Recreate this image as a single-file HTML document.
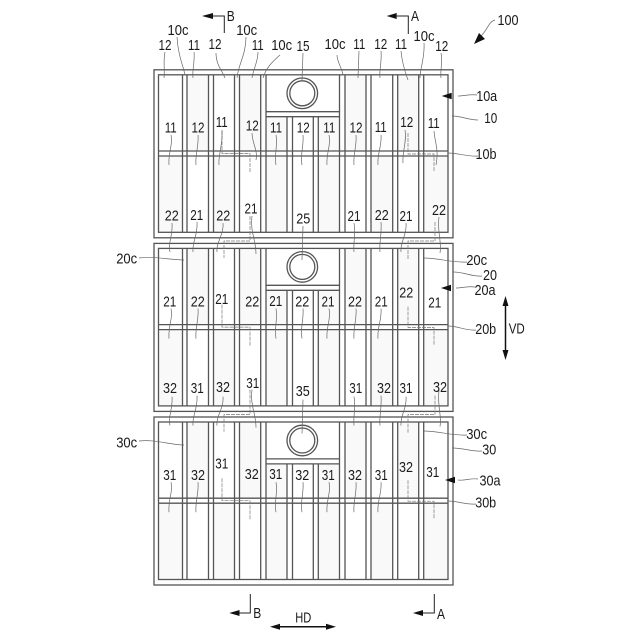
<!DOCTYPE html>
<html><head><meta charset="utf-8">
<style>
html,body{margin:0;padding:0;background:#fff;width:640px;height:640px;overflow:hidden}
svg{display:block}
text{font-family:"Liberation Sans",sans-serif;font-size:15px;fill:#1a1a1a;text-anchor:middle}
.w{fill:none;stroke:#555;stroke-width:1.3}
.l{fill:none;stroke:#666;stroke-width:.7}
.d{fill:none;stroke:#777;stroke-width:.7;stroke-dasharray:4 1}
.a{fill:none;stroke:#222;stroke-width:1}
.s{fill:#f9f9f9}
</style></head><body>
<svg width="640" height="640" viewBox="0 0 640 640" xmlns="http://www.w3.org/2000/svg">
<defs>
<g id="m">
<rect class="s" x="187" y="75" width="21.5" height="76"/>
<rect class="s" x="240" y="75" width="21" height="76"/>
<rect class="s" x="345" y="75" width="21" height="76"/>
<rect class="s" x="398" y="75" width="21" height="76"/>
<rect class="s" x="266" y="117" width="21" height="34"/>
<rect class="s" x="318" y="117" width="21.5" height="34"/>
<rect class="s" x="158" y="156" width="24.5" height="76"/>
<rect class="s" x="213.500" y="156" width="21" height="76"/>
<rect class="s" x="266" y="156" width="21" height="76"/>
<rect class="s" x="318" y="156" width="21.500" height="76"/>
<rect class="s" x="371" y="156" width="21.500" height="76"/>
<rect class="s" x="424" y="156" width="24" height="76"/>
<rect class="w" x="154" y="69.800" width="299" height="168"/>
<rect class="w" x="158.500" y="74.800" width="289.500" height="157.500"/>
<path class="w" d="M182.500 75V232M187 75V232M208.500 75V232M213.500 75V232M234.500 75V232M239.500 75V232M260.700 75V232M266 75V232M339.500 75V232M345 75V232M366 75V232M371 75V232M392.700 75V232M397.700 75V232M418.700 75V232M423.700 75V232"/>
<path class="w" d="M158.500 151H448M158.500 156H448M266 111.700H339.500M266 116.700H339.500M287 117V232M292.500 117V232M313.300 117V232M318.300 117V232"/>
<circle class="w" cx="302.300" cy="93.300" r="15.300" style="fill:#fff"/>
<circle class="w" cx="302.300" cy="93.300" r="12.500" style="fill:#fff"/>
</g>
<g id="ld">
<path class="l" d="M171 135C173 146 168 152 169 165M198 135C199 146 195 154 196 165M276 135C278 146 274 154 276 165M303 135C304 146 300 154 302 165M329 135C331 146 326 154 327 165M356 135C357 146 353 154 354 165M381 135C382 146 377 154 378 165"/>
<path class="d" d="M222 131V153.500H250V172M408 133V154H434V172"/>
</g>
<g id="tl">
<path class="l" d="M172 223C173 235 168 242 170 252M197 222C198 235 192 242 193 252M223 223C224 235 216 242 217 252M252 216C250 232 256 240 256 254M303 226L302 260M354 223C356 235 353 242 354 252M381 222C382 235 379 242 380 252M406 223C407 235 400 242 401 252M439 217C437 232 442 242 440 253"/>
<path class="d" d="M250 216V241H224V258M435 222V241H408V260"/>
</g>
</defs>

<use href="#m"/>
<use href="#m" y="173.600"/>
<use href="#m" y="347.200"/>
<use href="#ld"/>
<use href="#ld" y="173.600"/>
<use href="#ld" y="347.200"/>
<use href="#tl"/>
<use href="#tl" y="173.600"/>

<path class="l" d="M165 52C163 62 165 70 164 78M177 37C178 55 183 65 185 75M194 52C195 62 192 70 193 78M216 53C216 65 222 70 225 78M246 37C246 55 238 65 237 78M258 52C258 62 253 70 252 78M280 55C272 62 266 68 263 78M303 53L302 80M337 55C337 62 342 68 343 75M359 51L358 78M381 51C382 62 379 70 380 78M401 51C402 62 405 72 408 80M424 43C425 58 420 68 420 78M441 53C443 62 440 70 441 78"/>
<path class="l" d="M222 130C223 145 218 155 219 165M252 133C252 143 258 150 256 160M405 130C407 142 402 152 403 163M434 131C435 143 439 150 436 165"/>
<path class="l" d="M452 116C462 116 468 120 478 120M448 153C458 153 468 157 478 156M458 96C464 96 470 94 477 95"/>
<path class="l" d="M139 258C155 256 170 260 184 260M423 258C440 258 452 263 467 262M453 272C465 272 472 277 482 276M456 288C462 288 468 286 475 287M448 326C458 326 466 331 476 330"/>
<path class="l" d="M139 441C155 439 170 445 184 445M423 431C440 431 452 436 467 435M452 448C465 448 472 452 482 451M458 480C465 481 470 478 478 479M448 501C458 501 466 505 476 504"/>

<polygon points="441.700,96 451.700,92.800 451.700,99.200" fill="#111"/>
<polygon points="441,288 451,284.800 451,291.200" fill="#111"/>
<polygon points="445,480 455,476.800 455,483.200" fill="#111"/>

<path class="a" d="M213 16H224.300V33M396.700 16H408.300V34M239 613H250.300V594M423 613H434.300V594"/>
<polygon points="202,16 213,13 213,19" fill="#111"/>
<polygon points="386.700,16 396.700,13 396.700,19" fill="#111"/>
<polygon points="229.300,613 239.500,610 239.500,616" fill="#111"/>
<polygon points="413,613 423,610 423,616" fill="#111"/>
<path d="M278 626.700H328" stroke="#111" stroke-width="1.5"/>
<polygon points="270,626.700 280,623.700 280,629.700" fill="#111"/>
<polygon points="336,626.700 326,623.700 326,629.700" fill="#111"/>
<path d="M505.500 304V352" stroke="#111" stroke-width="1.5"/>
<polygon points="505.500,296 502.500,306 508.500,306" fill="#111"/>
<polygon points="505.500,360 502.500,350 508.500,350" fill="#111"/>
<path class="l" d="M495 20C488 22 488 30 480 37" stroke-width="1"/>
<polygon points="474,44 479,33 485,39" fill="#111"/>

<g>
<text x="230.700" y="21" textLength="8" lengthAdjust="spacingAndGlyphs">B</text>
<text x="415" y="21" textLength="8" lengthAdjust="spacingAndGlyphs">A</text>
<text x="257.300" y="618" textLength="8" lengthAdjust="spacingAndGlyphs">B</text>
<text x="441" y="619" textLength="8" lengthAdjust="spacingAndGlyphs">A</text>
<text x="303.300" y="622.700" textLength="16" lengthAdjust="spacingAndGlyphs">HD</text>
<text x="516.700" y="333.300" textLength="16" lengthAdjust="spacingAndGlyphs">VD</text>
<text x="508" y="25" textLength="21" lengthAdjust="spacingAndGlyphs">100</text>

<text x="165" y="50" textLength="13" lengthAdjust="spacingAndGlyphs">12</text>
<text x="178" y="35" textLength="21" lengthAdjust="spacingAndGlyphs">10c</text>
<text x="194" y="50" textLength="12" lengthAdjust="spacingAndGlyphs">11</text>
<text x="215" y="49" textLength="13" lengthAdjust="spacingAndGlyphs">12</text>
<text x="246.700" y="35" textLength="21" lengthAdjust="spacingAndGlyphs">10c</text>
<text x="257.700" y="50" textLength="12" lengthAdjust="spacingAndGlyphs">11</text>
<text x="281.700" y="50" textLength="21" lengthAdjust="spacingAndGlyphs">10c</text>
<text x="303" y="51" textLength="13" lengthAdjust="spacingAndGlyphs">15</text>
<text x="335" y="49" textLength="21" lengthAdjust="spacingAndGlyphs">10c</text>
<text x="359.300" y="49" textLength="12" lengthAdjust="spacingAndGlyphs">11</text>
<text x="380.700" y="49" textLength="13" lengthAdjust="spacingAndGlyphs">12</text>
<text x="401" y="49" textLength="12" lengthAdjust="spacingAndGlyphs">11</text>
<text x="424" y="41" textLength="21" lengthAdjust="spacingAndGlyphs">10c</text>
<text x="441.700" y="51" textLength="13" lengthAdjust="spacingAndGlyphs">12</text>

<text x="170.700" y="132.700" textLength="12" lengthAdjust="spacingAndGlyphs">11</text>
<text x="198" y="132.700" textLength="13" lengthAdjust="spacingAndGlyphs">12</text>
<text x="221.700" y="127" textLength="12" lengthAdjust="spacingAndGlyphs">11</text>
<text x="252.300" y="130.500" textLength="13" lengthAdjust="spacingAndGlyphs">12</text>
<text x="276" y="132.700" textLength="12" lengthAdjust="spacingAndGlyphs">11</text>
<text x="303.300" y="132.700" textLength="13" lengthAdjust="spacingAndGlyphs">12</text>
<text x="329.300" y="132.700" textLength="12" lengthAdjust="spacingAndGlyphs">11</text>
<text x="356" y="132.700" textLength="13" lengthAdjust="spacingAndGlyphs">12</text>
<text x="380.700" y="132" textLength="12" lengthAdjust="spacingAndGlyphs">11</text>
<text x="406.700" y="127" textLength="13" lengthAdjust="spacingAndGlyphs">12</text>
<text x="433.700" y="128" textLength="12" lengthAdjust="spacingAndGlyphs">11</text>
<text x="486.700" y="101" textLength="21" lengthAdjust="spacingAndGlyphs">10a</text>
<text x="490.700" y="123" textLength="13" lengthAdjust="spacingAndGlyphs">10</text>
<text x="486" y="159" textLength="21" lengthAdjust="spacingAndGlyphs">10b</text>

<text x="171.700" y="220.700" textLength="14" lengthAdjust="spacingAndGlyphs">22</text>
<text x="196.700" y="220" textLength="13" lengthAdjust="spacingAndGlyphs">21</text>
<text x="223.300" y="220.700" textLength="14" lengthAdjust="spacingAndGlyphs">22</text>
<text x="251" y="213.700" textLength="13" lengthAdjust="spacingAndGlyphs">21</text>
<text x="303.300" y="223.700" textLength="14" lengthAdjust="spacingAndGlyphs">25</text>
<text x="354" y="221" textLength="13" lengthAdjust="spacingAndGlyphs">21</text>
<text x="381.700" y="220" textLength="14" lengthAdjust="spacingAndGlyphs">22</text>
<text x="406" y="221" textLength="13" lengthAdjust="spacingAndGlyphs">21</text>
<text x="439" y="215" textLength="14" lengthAdjust="spacingAndGlyphs">22</text>
<text x="126.700" y="263.300" textLength="21" lengthAdjust="spacingAndGlyphs">20c</text>
<text x="476.700" y="265" textLength="21" lengthAdjust="spacingAndGlyphs">20c</text>
<text x="490" y="280" textLength="14" lengthAdjust="spacingAndGlyphs">20</text>
<text x="485" y="295" textLength="21" lengthAdjust="spacingAndGlyphs">20a</text>
<text x="485.700" y="334" textLength="21" lengthAdjust="spacingAndGlyphs">20b</text>

<text x="169.700" y="306.700" textLength="13" lengthAdjust="spacingAndGlyphs">21</text>
<text x="197.700" y="306.700" textLength="14" lengthAdjust="spacingAndGlyphs">22</text>
<text x="221.700" y="304" textLength="13" lengthAdjust="spacingAndGlyphs">21</text>
<text x="252.300" y="306.700" textLength="14" lengthAdjust="spacingAndGlyphs">22</text>
<text x="275.700" y="306" textLength="13" lengthAdjust="spacingAndGlyphs">21</text>
<text x="302.300" y="306.700" textLength="14" lengthAdjust="spacingAndGlyphs">22</text>
<text x="328" y="306.700" textLength="13" lengthAdjust="spacingAndGlyphs">21</text>
<text x="355" y="306.700" textLength="14" lengthAdjust="spacingAndGlyphs">22</text>
<text x="381.300" y="306.700" textLength="13" lengthAdjust="spacingAndGlyphs">21</text>
<text x="406.300" y="297.700" textLength="14" lengthAdjust="spacingAndGlyphs">22</text>
<text x="434.700" y="307.700" textLength="13" lengthAdjust="spacingAndGlyphs">21</text>

<text x="170" y="393" textLength="14" lengthAdjust="spacingAndGlyphs">32</text>
<text x="197.300" y="393" textLength="13" lengthAdjust="spacingAndGlyphs">31</text>
<text x="223" y="392" textLength="14" lengthAdjust="spacingAndGlyphs">32</text>
<text x="252.700" y="388" textLength="13" lengthAdjust="spacingAndGlyphs">31</text>
<text x="302.700" y="396" textLength="14" lengthAdjust="spacingAndGlyphs">35</text>
<text x="355.700" y="393" textLength="13" lengthAdjust="spacingAndGlyphs">31</text>
<text x="384" y="393" textLength="14" lengthAdjust="spacingAndGlyphs">32</text>
<text x="406" y="393" textLength="13" lengthAdjust="spacingAndGlyphs">31</text>
<text x="440" y="392" textLength="14" lengthAdjust="spacingAndGlyphs">32</text>
<text x="126.700" y="447.700" textLength="21" lengthAdjust="spacingAndGlyphs">30c</text>
<text x="476.700" y="439" textLength="21" lengthAdjust="spacingAndGlyphs">30c</text>
<text x="489.300" y="454.300" textLength="14" lengthAdjust="spacingAndGlyphs">30</text>
<text x="490" y="485.300" textLength="21" lengthAdjust="spacingAndGlyphs">30a</text>
<text x="485.700" y="507.700" textLength="21" lengthAdjust="spacingAndGlyphs">30b</text>

<text x="169.700" y="480" textLength="13" lengthAdjust="spacingAndGlyphs">31</text>
<text x="198" y="480" textLength="14" lengthAdjust="spacingAndGlyphs">32</text>
<text x="221.700" y="468.700" textLength="13" lengthAdjust="spacingAndGlyphs">31</text>
<text x="251.700" y="479" textLength="14" lengthAdjust="spacingAndGlyphs">32</text>
<text x="275.700" y="479" textLength="13" lengthAdjust="spacingAndGlyphs">31</text>
<text x="302.300" y="480" textLength="14" lengthAdjust="spacingAndGlyphs">32</text>
<text x="328.300" y="480" textLength="13" lengthAdjust="spacingAndGlyphs">31</text>
<text x="355" y="480" textLength="14" lengthAdjust="spacingAndGlyphs">32</text>
<text x="381.300" y="480" textLength="13" lengthAdjust="spacingAndGlyphs">31</text>
<text x="406" y="472" textLength="14" lengthAdjust="spacingAndGlyphs">32</text>
<text x="432.700" y="477" textLength="13" lengthAdjust="spacingAndGlyphs">31</text>
</g>
</svg>
</body></html>
